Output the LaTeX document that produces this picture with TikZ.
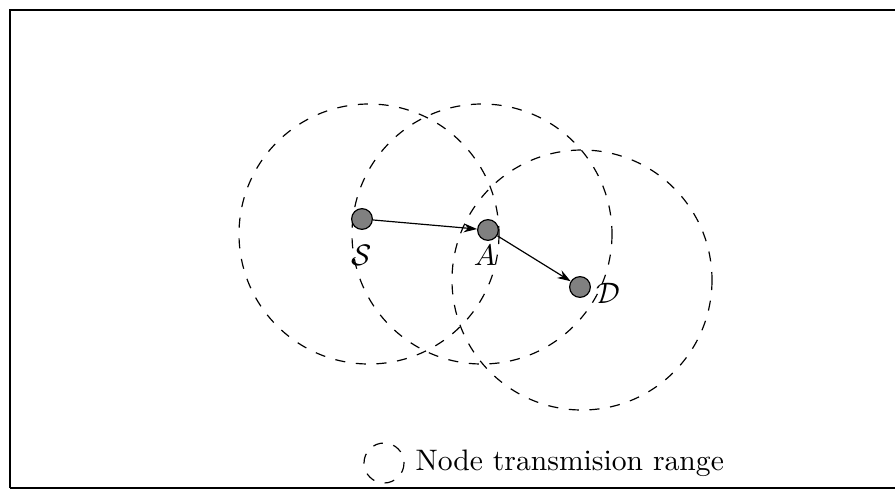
\documentclass[tikz,border=0pt]{standalone}
\usetikzlibrary{arrows.meta}
\begin{document}
\begin{tikzpicture}[x=0.3375pt,y=-0.3375pt,
  txrange/.style={draw,dash pattern=on 3.4pt off 3.6pt,line width=0.4pt},
  netnode/.style={circle,draw,fill=gray,minimum size=7pt,inner sep=0pt,line width=0.4pt},
  hop/.style={-{Stealth[length=4.5pt,width=3pt]},line width=0.4pt}]
\useasboundingbox (0,0) rectangle (895,489);
\clip (0,0) rectangle (895,489);
\draw[line width=0.7pt] (10,488) -- (10,10) -- (900,10);
\draw[line width=0.7pt] (10,488) -- (900,488);
% transmission ranges
\draw[txrange] (369,234) circle[radius=130];
\draw[txrange] (482,234) circle[radius=130];
\draw[txrange] (582,280) circle[radius=130];
% nodes
\node[netnode] (S) at (362,219) {};
\node[netnode] (A) at (488,230) {};
\node[netnode] (D) at (580,287) {};
\node (Sl) at (362,255) {$\mathcal{S}$};
\node (Al) at (485,255) {$A$};
\node (Dl) at (608,293) {$\mathcal{D}$};
\draw[hop] (S) -- (A);
\draw[hop] (A) -- (D);
% legend
\draw[txrange] (384,463) circle[radius=20];
\node[anchor=west,inner sep=0pt] (leg) at (415,463) {Node transmision range};
\end{tikzpicture}
\end{document}
